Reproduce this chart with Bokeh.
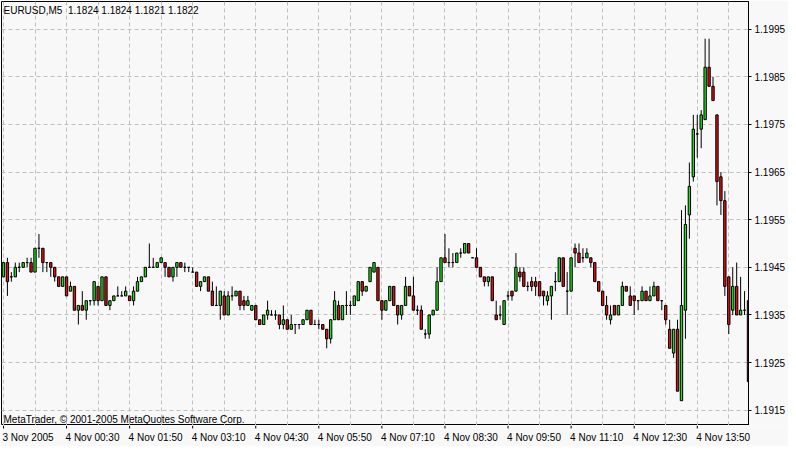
from bokeh.plotting import figure
from bokeh.models import ColumnDataSource, Range1d, FixedTicker, PrintfTickFormatter, Label
from bokeh.layouts import column
from bokeh.core.properties import value
from bokeh.embed import file_html
from bokeh.resources import INLINE

# EURUSD M5 bars, 3 Nov 2005 23:10 ... 4 Nov 2005 14:55
opens = [
    1.1943, 1.1946, 1.1943, 1.1943, 1.1945, 1.1945, 1.1946, 1.1946, 1.1944, 1.1949,
    1.1949, 1.1946, 1.1946, 1.1945, 1.1943, 1.1941, 1.1943, 1.1940, 1.1941, 1.1936,
    1.1937, 1.1936, 1.1938, 1.1938, 1.1941, 1.1938, 1.1943, 1.1937, 1.1938, 1.1939,
    1.1939, 1.1939, 1.1939, 1.1938, 1.1940, 1.1942, 1.1943, 1.1945, 1.1945, 1.1945,
    1.1946, 1.1946, 1.1945, 1.1943, 1.1945, 1.1946, 1.1945, 1.1945, 1.1944, 1.1944,
    1.1941, 1.1942, 1.1943, 1.1940, 1.1937, 1.1937, 1.1939, 1.1935, 1.1939, 1.1939,
    1.1940, 1.1938, 1.1937, 1.1936, 1.1937, 1.1934, 1.1933, 1.1935, 1.1935, 1.1935,
    1.1935, 1.1933, 1.1934, 1.1932, 1.1933, 1.1933, 1.1933, 1.1934, 1.1936, 1.1933,
    1.1933, 1.1933, 1.1932, 1.1930, 1.1934, 1.1937, 1.1934, 1.1937, 1.1937, 1.1937,
    1.1938, 1.1942, 1.1940, 1.1942, 1.1944, 1.1945, 1.1938, 1.1936, 1.1938, 1.1941,
    1.1937, 1.1935, 1.1937, 1.1941, 1.1939, 1.1936, 1.1936, 1.1931, 1.1931, 1.1935,
    1.1936, 1.1942, 1.1947, 1.1946, 1.1946, 1.1946, 1.1948, 1.1948, 1.1950, 1.1947,
    1.1947, 1.1945, 1.1943, 1.1942, 1.1943, 1.1935, 1.1935, 1.1933, 1.1939, 1.1940,
    1.1940, 1.1944, 1.1944, 1.1941, 1.1942, 1.1942, 1.1942, 1.1940, 1.1938, 1.1939,
    1.1942, 1.1942, 1.1947, 1.1940, 1.1940, 1.1949, 1.1948, 1.1947, 1.1947, 1.1947,
    1.1946, 1.1942, 1.1940, 1.1937, 1.1934, 1.1937, 1.1935, 1.1937, 1.1941, 1.1939,
    1.1939, 1.1938, 1.1938, 1.1940, 1.1938, 1.1939, 1.1941, 1.1938, 1.1937, 1.1932,
    1.1927, 1.1932, 1.1917, 1.1936, 1.1956, 1.1964, 1.1973, 1.1974, 1.1976, 1.1987,
    1.1983, 1.1977, 1.1964, 1.1959, 1.1943, 1.1936, 1.1941, 1.1935, 1.1936, 1.1938,
]
highs = [
    1.1946, 1.1947, 1.1944, 1.1946, 1.1946, 1.1946, 1.1947, 1.1947, 1.1949, 1.1952,
    1.1949, 1.1946, 1.1946, 1.1945, 1.1943, 1.1943, 1.1943, 1.1942, 1.1941, 1.1937,
    1.1940, 1.1938, 1.1938, 1.1942, 1.1941, 1.1943, 1.1943, 1.1938, 1.1939, 1.1941,
    1.1940, 1.1941, 1.1939, 1.1941, 1.1943, 1.1943, 1.1945, 1.1950, 1.1947, 1.1946,
    1.1947, 1.1946, 1.1945, 1.1945, 1.1946, 1.1946, 1.1946, 1.1945, 1.1945, 1.1944,
    1.1942, 1.1943, 1.1943, 1.1942, 1.1941, 1.1940, 1.1940, 1.1940, 1.1941, 1.1940,
    1.1940, 1.1939, 1.1939, 1.1937, 1.1937, 1.1934, 1.1935, 1.1938, 1.1936, 1.1936,
    1.1935, 1.1937, 1.1934, 1.1935, 1.1933, 1.1933, 1.1934, 1.1936, 1.1936, 1.1934,
    1.1934, 1.1933, 1.1932, 1.1934, 1.1940, 1.1938, 1.1937, 1.1940, 1.1938, 1.1939,
    1.1942, 1.1942, 1.1941, 1.1945, 1.1946, 1.1945, 1.1938, 1.1938, 1.1941, 1.1941,
    1.1937, 1.1937, 1.1943, 1.1941, 1.1943, 1.1937, 1.1937, 1.1932, 1.1935, 1.1936,
    1.1945, 1.1947, 1.1952, 1.1949, 1.1948, 1.1948, 1.1949, 1.1950, 1.1950, 1.1947,
    1.1949, 1.1945, 1.1943, 1.1943, 1.1943, 1.1938, 1.1937, 1.1938, 1.1940, 1.1940,
    1.1948, 1.1945, 1.1945, 1.1942, 1.1943, 1.1943, 1.1942, 1.1940, 1.1940, 1.1941,
    1.1944, 1.1947, 1.1947, 1.1944, 1.1947, 1.1950, 1.1950, 1.1949, 1.1949, 1.1947,
    1.1946, 1.1942, 1.1940, 1.1939, 1.1937, 1.1937, 1.1937, 1.1942, 1.1941, 1.1941,
    1.1939, 1.1938, 1.1941, 1.1940, 1.1941, 1.1942, 1.1941, 1.1938, 1.1937, 1.1934,
    1.1932, 1.1934, 1.1957, 1.1958, 1.1967, 1.1977, 1.1977, 1.1978, 1.1993, 1.1993,
    1.1985, 1.1977, 1.1965, 1.1961, 1.1943, 1.1945, 1.1946, 1.1943, 1.1940, 1.1938,
]
lows = [
    1.1943, 1.1939, 1.1942, 1.1943, 1.1944, 1.1945, 1.1945, 1.1944, 1.1944, 1.1947,
    1.1944, 1.1944, 1.1943, 1.1942, 1.1941, 1.1941, 1.1939, 1.1940, 1.1936, 1.1933,
    1.1936, 1.1934, 1.1937, 1.1937, 1.1937, 1.1938, 1.1937, 1.1936, 1.1938, 1.1939,
    1.1939, 1.1939, 1.1938, 1.1937, 1.1940, 1.1942, 1.1943, 1.1945, 1.1945, 1.1945,
    1.1946, 1.1943, 1.1943, 1.1942, 1.1943, 1.1945, 1.1944, 1.1944, 1.1944, 1.1941,
    1.1940, 1.1942, 1.1940, 1.1937, 1.1937, 1.1934, 1.1935, 1.1935, 1.1938, 1.1939,
    1.1936, 1.1936, 1.1937, 1.1936, 1.1934, 1.1933, 1.1933, 1.1934, 1.1935, 1.1934,
    1.1932, 1.1932, 1.1932, 1.1932, 1.1931, 1.1932, 1.1933, 1.1934, 1.1933, 1.1933,
    1.1932, 1.1932, 1.1928, 1.1929, 1.1934, 1.1934, 1.1934, 1.1935, 1.1935, 1.1937,
    1.1938, 1.1939, 1.1940, 1.1942, 1.1944, 1.1938, 1.1934, 1.1936, 1.1938, 1.1937,
    1.1933, 1.1934, 1.1937, 1.1939, 1.1936, 1.1935, 1.1932, 1.1930, 1.1930, 1.1935,
    1.1936, 1.1942, 1.1946, 1.1945, 1.1945, 1.1946, 1.1947, 1.1948, 1.1948, 1.1947,
    1.1945, 1.1943, 1.1941, 1.1941, 1.1938, 1.1934, 1.1934, 1.1933, 1.1938, 1.1938,
    1.1940, 1.1942, 1.1941, 1.1940, 1.1940, 1.1939, 1.1939, 1.1937, 1.1937, 1.1934,
    1.1940, 1.1942, 1.1941, 1.1935, 1.1940, 1.1945, 1.1946, 1.1946, 1.1947, 1.1945,
    1.1942, 1.1940, 1.1937, 1.1934, 1.1933, 1.1935, 1.1935, 1.1937, 1.1940, 1.1937,
    1.1935, 1.1936, 1.1938, 1.1938, 1.1938, 1.1939, 1.1938, 1.1936, 1.1933, 1.1928,
    1.1926, 1.1919, 1.1917, 1.1930, 1.1951, 1.1963, 1.1968, 1.1970, 1.1976, 1.1983,
    1.1980, 1.1958, 1.1956, 1.1939, 1.1931, 1.1935, 1.1935, 1.1935, 1.1935, 1.1921,
]
closes = [
    1.1946, 1.1942, 1.1943, 1.1945, 1.1945, 1.1946, 1.1946, 1.1944, 1.1949, 1.1949,
    1.1946, 1.1946, 1.1945, 1.1943, 1.1941, 1.1943, 1.1939, 1.1941, 1.1936, 1.1937,
    1.1936, 1.1938, 1.1938, 1.1942, 1.1938, 1.1943, 1.1937, 1.1938, 1.1939, 1.1939,
    1.1939, 1.1940, 1.1938, 1.1940, 1.1942, 1.1943, 1.1945, 1.1945, 1.1945, 1.1946,
    1.1947, 1.1945, 1.1943, 1.1945, 1.1946, 1.1945, 1.1945, 1.1945, 1.1944, 1.1941,
    1.1942, 1.1943, 1.1940, 1.1937, 1.1937, 1.1940, 1.1935, 1.1939, 1.1939, 1.1940,
    1.1937, 1.1937, 1.1938, 1.1937, 1.1934, 1.1933, 1.1935, 1.1936, 1.1935, 1.1935,
    1.1933, 1.1934, 1.1932, 1.1933, 1.1933, 1.1933, 1.1934, 1.1936, 1.1933, 1.1933,
    1.1933, 1.1932, 1.1930, 1.1934, 1.1938, 1.1934, 1.1937, 1.1937, 1.1937, 1.1939,
    1.1942, 1.1940, 1.1941, 1.1945, 1.1946, 1.1938, 1.1936, 1.1938, 1.1941, 1.1937,
    1.1935, 1.1937, 1.1941, 1.1939, 1.1936, 1.1936, 1.1932, 1.1931, 1.1935, 1.1936,
    1.1942, 1.1947, 1.1946, 1.1946, 1.1946, 1.1948, 1.1948, 1.1950, 1.1948, 1.1947,
    1.1945, 1.1943, 1.1942, 1.1943, 1.1938, 1.1934, 1.1935, 1.1938, 1.1939, 1.1939,
    1.1945, 1.1943, 1.1941, 1.1941, 1.1941, 1.1941, 1.1939, 1.1939, 1.1939, 1.1941,
    1.1942, 1.1947, 1.1941, 1.1940, 1.1947, 1.1948, 1.1946, 1.1947, 1.1948, 1.1946,
    1.1942, 1.1940, 1.1937, 1.1935, 1.1935, 1.1935, 1.1937, 1.1941, 1.1940, 1.1937,
    1.1938, 1.1938, 1.1940, 1.1938, 1.1939, 1.1941, 1.1938, 1.1938, 1.1934, 1.1928,
    1.1932, 1.1919, 1.1937, 1.1954, 1.1962, 1.1974, 1.1973, 1.1977, 1.1987, 1.1983,
    1.1980, 1.1963, 1.1959, 1.1941, 1.1933, 1.1941, 1.1935, 1.1936, 1.1936, 1.1921,
]

time_ticks = [0, 16, 32, 48, 64, 80, 96, 112, 128, 144, 160, 176]
time_labels = ["3 Nov 2005", "4 Nov 00:30", "4 Nov 01:50", "4 Nov 03:10",
               "4 Nov 04:30", "4 Nov 05:50", "4 Nov 07:10", "4 Nov 08:30",
               "4 Nov 09:50", "4 Nov 11:10", "4 Nov 12:30", "4 Nov 13:50"]
price_ticks = [1.1915, 1.1925, 1.1935, 1.1945, 1.1955, 1.1965, 1.1975, 1.1985, 1.1995]

title_text = "EURUSD,M5\u00a0\u00a01.1824 1.1824 1.1821 1.1822"
copyright_text = "MetaTrader, \u00a9 2001-2005 MetaQuotes Software Corp."

FONT = "Liberation Sans"
BULL = "#22dd22"
BEAR = "#e01010"
BG = "#f8f8f8"

FRAME_W = 747      # chart frame width (px)
FRAME_H = 424      # chart frame height (px)
AXIS_W = 40        # room taken by the price axis on the right
STRIP_H = 21       # strip under the chart with the time scale

xs = list(range(len(opens)))
source = ColumnDataSource(data=dict(
    x=xs,
    high=highs,
    low=lows,
    top=[max(o, c) for o, c in zip(opens, closes)],
    bottom=[min(o, c) for o, c in zip(opens, closes)],
    color=[BULL if c >= o else BEAR for o, c in zip(opens, closes)],
))

x_start, x_end = -0.5, 189.0
y_start, y_end = 1.19118, 1.20008

p = figure(frame_width=FRAME_W, frame_height=FRAME_H,
           output_backend="svg", toolbar_location=None,
           x_range=Range1d(x_start, x_end), y_range=Range1d(y_start, y_end),
           x_axis_location=None, y_axis_location="right",
           min_border_left=1, min_border_top=1, min_border_right=0,
           min_border_bottom=0)

p.background_fill_color = BG
p.border_fill_color = BG
p.outline_line_color = "black"
p.outline_line_width = 1

# grid
p.xgrid.ticker = FixedTicker(ticks=list(range(0, 190, 8)))
p.ygrid.ticker = FixedTicker(ticks=price_ticks)
p.grid.grid_line_color = "#c0c0c0"
p.grid.grid_line_dash = "4 3"
p.grid.grid_line_width = 1

# price axis (right)
p.yaxis.ticker = FixedTicker(ticks=price_ticks)
p.yaxis.formatter = PrintfTickFormatter(format="%.4f")
p.yaxis.major_tick_in = 0
p.yaxis.major_tick_out = 3
p.yaxis.minor_tick_line_color = None
p.yaxis.axis_line_color = "black"
p.yaxis.major_tick_line_color = "black"
p.yaxis.major_label_standoff = 3
p.yaxis.major_label_text_font = FONT
p.yaxis.major_label_text_font_size = "10px"
p.yaxis.major_label_text_color = "black"

# candles
p.segment(x0="x", y0="high", x1="x", y1="low", source=source,
          line_color="black", line_width=1)
p.vbar(x="x", width=0.6, top="top", bottom="bottom", source=source,
       fill_color="color", line_color="black", line_width=1)

p.add_layout(Label(x=x_start, y=y_end, x_offset=2, y_offset=-3, text=title_text,
                   text_align="left", text_baseline="top",
                   text_font=FONT, text_font_size="10px", text_color="black"))
p.add_layout(Label(x=x_start, y=y_start, x_offset=2, y_offset=1, text=copyright_text,
                   text_align="left", text_baseline="bottom",
                   text_font=FONT, text_font_size="10px", text_color="black"))

# time scale strip: same bar spacing, extended under the price axis
strip_x_end = x_start + (x_end - x_start) * (FRAME_W + AXIS_W) / FRAME_W
s = figure(frame_width=FRAME_W + AXIS_W, frame_height=STRIP_H,
           output_backend="svg", toolbar_location=None,
           x_range=Range1d(x_start, strip_x_end), y_range=Range1d(0, STRIP_H),
           x_axis_location=None, y_axis_location=None,
           min_border_left=1, min_border_top=0, min_border_right=0,
           min_border_bottom=0)
s.background_fill_color = BG
s.border_fill_color = BG
s.outline_line_color = None
s.grid.visible = False

s.segment(x0=time_ticks, y0=[STRIP_H] * len(time_ticks),
          x1=time_ticks, y1=[STRIP_H - 3] * len(time_ticks),
          line_color="black", line_width=1)
s.text(x=time_ticks, y=[STRIP_H - 6] * len(time_ticks), text=time_labels,
       x_offset=-1, text_align="left", text_baseline="top",
       text_font=value(FONT), text_font_size="10px", text_color="black")

layout = column(p, s, spacing=0)

open("out.html", "w").write(file_html(layout, INLINE))
